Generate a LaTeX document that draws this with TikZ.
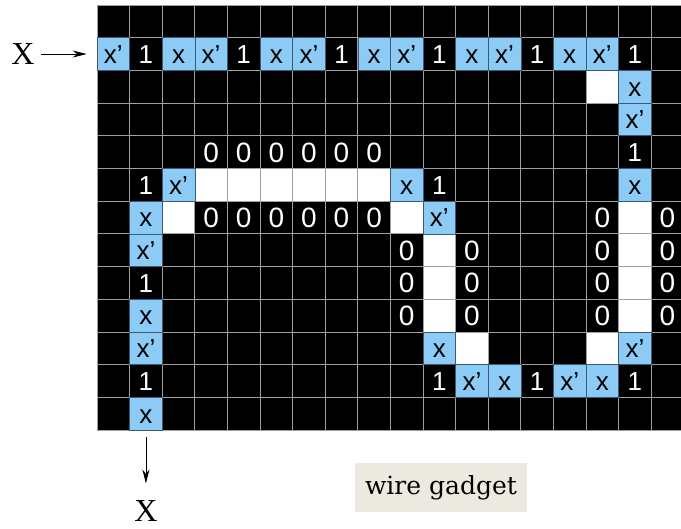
\documentclass[tikz,border=0pt]{standalone}
\usepackage{fontspec}
\setmainfont{Liberation Serif}
\newfontfamily\cellfont{Liberation Sans}
\newfontfamily\tagfont{DejaVu Serif}
\usepackage{tikz}
\usetikzlibrary{arrows.meta,positioning}
\definecolor{wireblue}{HTML}{8CCBF5}
\definecolor{wireedge}{HTML}{3C5A70}
\definecolor{gridgray}{HTML}{A0A0A0}
\definecolor{tagbg}{HTML}{ECE9E0}
\tikzset{
  cell/.style    ={minimum width=32.6pt,minimum height=32.7pt,inner sep=0pt,
                   text height=18.6pt,text depth=0pt,font=\cellfont\fontsize{26}{26}\selectfont},
  varcell/.style ={cell,fill=wireblue,draw=wireedge,line width=0.6pt,text=black},
  bitcell/.style ={cell,text=white},
  zerocell/.style={bitcell,text height=20pt,font=\cellfont\fontsize{28}{28}\selectfont},
  gridline/.style={draw=gridgray,line width=0.9pt},
  lbl/.style     ={inner sep=0pt,font=\fontsize{32}{32}\selectfont},
  tag/.style     ={fill=tagbg,inner sep=0pt,minimum width=172pt,minimum height=49pt,
                   font=\tagfont\fontsize{25}{25}\selectfont},
  flow/.style    ={-{Stealth[length=14pt,width=7pt]},line width=0.8pt}
}
\begin{document}
\begin{tikzpicture}[x=1pt,y=-1pt]
  \useasboundingbox (0,0) rectangle (681,529);
  \clip (0,0) rectangle (681,529);
  \begin{scope}[shift={(97,5)},x=32.6pt,y=-32.7pt]
    \fill[black] (0,0) rectangle (18,13);
    \foreach \c/\r in {15/2,3/5,4/5,5/5,6/5,7/5,8/5,2/6,9/6,16/6,10/7,16/7,
                       10/8,16/8,10/9,16/9,11/10,15/10}
      \fill[white] (\c,\r) rectangle ++(1,1);
    \foreach \c in {0,...,18} \draw[gridline] (\c,0) -- (\c,13);
    \foreach \r in {0,...,13} \draw[gridline] (0,\r) -- (18,\r);
    \foreach \c/\r/\t in {0/1/x’,2/1/x,3/1/x’,5/1/x,6/1/x’,8/1/x,9/1/x’,11/1/x,12/1/x’,
                          14/1/x,15/1/x’,16/2/x,16/3/x’,16/5/x,2/5/x’,9/5/x,1/6/x,
                          10/6/x’,1/7/x’,1/9/x,1/10/x’,10/10/x,16/10/x’,11/11/x’,
                          12/11/x,14/11/x’,15/11/x,1/12/x}
      \node[varcell] (v-\r-\c) at (\c+0.5,\r+0.5) {\t};
    \foreach \c/\r in {1/1,4/1,7/1,10/1,13/1,16/1,16/4,1/5,10/5,1/8,1/11,10/11,13/11,16/11}
      \node[bitcell] (one-\r-\c) at (\c+0.5,\r+0.5) {1};
    \foreach \c/\r in {3/4,4/4,5/4,6/4,7/4,8/4,3/6,4/6,5/6,6/6,7/6,8/6,9/7,9/8,9/9,
                       11/7,11/8,11/9,15/6,15/7,15/8,15/9,17/6,17/7,17/8,17/9}
      \node[zerocell] (zero-\r-\c) at (\c+0.5,\r+0.5) {0};
  \end{scope}
  \node[lbl,left=62pt of v-1-0] (xin) {X};
  \node[lbl,below=70pt of v-12-1] (xout) {X};
  \draw[flow,shorten <=6pt,shorten >=10pt] (xin) -- (v-1-0);
  \draw[flow,shorten <=7pt,shorten >=17pt] (v-12-1) -- (xout);
  \node[tag] (title) at (441,487.5) {wire gadget};
\end{tikzpicture}
\end{document}
